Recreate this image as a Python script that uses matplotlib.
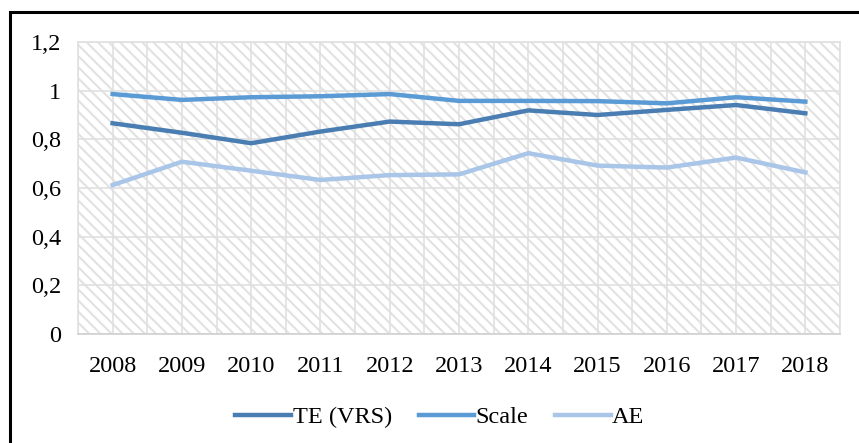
import matplotlib.pyplot as plt
from matplotlib.patches import Rectangle
from matplotlib.ticker import FuncFormatter, MultipleLocator

years = ['2008', '2009', '2010', '2011', '2012', '2013', '2014', '2015', '2016', '2017', '2018']
te_vrs = [0.866, 0.827, 0.784, 0.832, 0.873, 0.862, 0.919, 0.900, 0.921, 0.941, 0.907]
scale = [0.986, 0.962, 0.973, 0.977, 0.986, 0.958, 0.958, 0.957, 0.948, 0.973, 0.955]
ae = [0.612, 0.708, 0.671, 0.633, 0.653, 0.656, 0.743, 0.692, 0.684, 0.725, 0.664]

plt.rcParams['font.family'] = ['Liberation Serif', 'DejaVu Serif']
plt.rcParams['hatch.color'] = '#e2e2e2'
plt.rcParams['hatch.linewidth'] = 1.5

fig = plt.figure(figsize=(8.59, 4.43), dpi=100)
# outer frame (only left and top edges are visible in the image)
fig.patches.append(Rectangle((10 / 859, -0.1), 1.0, 1.1 - 12 / 443, transform=fig.transFigure,
                             fill=False, edgecolor='black', linewidth=2.2))

ax = fig.add_axes([78 / 859, 109 / 443, 762 / 859, 292 / 443])
x = list(range(len(years)))

ax.add_patch(Rectangle((0, 0), 1, 1, transform=ax.transAxes, facecolor='white',
                       hatch='\\\\\\', edgecolor='#e2e2e2', linewidth=0, zorder=0))

ax.set_xlim(-0.5, len(years) - 0.5)
ax.set_ylim(0, 1.2)
ax.yaxis.set_major_locator(MultipleLocator(0.2))
ax.yaxis.set_major_formatter(FuncFormatter(lambda v, p: ('%g' % round(v, 1)).replace('.', ',')))
ax.set_xticks(x)
ax.set_xticklabels(years)
ax.set_xticks([i - 0.5 for i in x] + [len(years) - 0.5], minor=True)

ax.grid(True, which='major', color='#e0e0e0', linewidth=1.2, zorder=1)
ax.grid(True, which='minor', axis='x', color='#e0e0e0', linewidth=1.2, zorder=1)
ax.set_axisbelow(True)
ax.tick_params(which='both', length=0, labelsize=17.5)
ax.tick_params(axis='x', pad=16)
ax.tick_params(axis='y', pad=12)
for s in ax.spines.values():
    s.set_color('#e0e0e0')
    s.set_linewidth(1.2)
ax.spines['bottom'].set_color('#d0d0d0')

ax.plot(x, te_vrs, color='#4a7eb3', linewidth=3.2, label='TE (VRS)', zorder=3)
ax.plot(x, scale, color='#5b9bd5', linewidth=3.2, label='Scale', zorder=3)
ax.plot(x, ae, color='#a9c5e8', linewidth=3.2, label='AE', zorder=3)

fig.legend(loc='center', bbox_to_anchor=(440 / 859, 1 - 417 / 443), ncol=3, frameon=False,
           fontsize=17.5, handlelength=2.3, handletextpad=0.05, columnspacing=1.1)

plt.savefig('out.png', dpi=100)
